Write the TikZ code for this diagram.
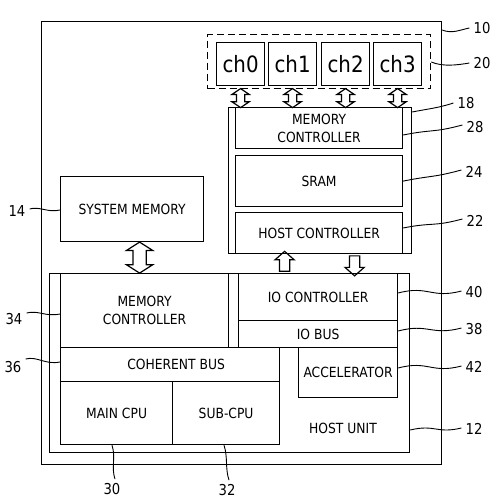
\documentclass[tikz,border=0pt]{standalone}
\usepackage{fontspec}
\setmainfont{DejaVu Sans}[FakeStretch=0.88]
\usetikzlibrary{shapes.arrows,calc}
\begin{document}
\begin{tikzpicture}[x=1pt,y=-1pt,
  box/.style={draw, line width=1.2pt, inner sep=0pt, anchor=north west, align=center,
    font=\fontsize{14}{18}\selectfont},
  txt/.style={inner sep=0pt, font=\fontsize{14}{18}\selectfont},
  chbox/.style={box, minimum width=48pt, minimum height=43pt, font=\fontsize{22.5}{24}\selectfont},
  num/.style={inner sep=0pt, font=\fontsize{15}{17}\selectfont},
  lead/.style={line width=0.9pt},
  dbla/.style={draw, line width=1.2pt, shape=double arrow, rotate=90, inner xsep=0pt},
  snga/.style={draw, line width=1.2pt, shape=single arrow, inner xsep=0pt,
    inner ysep=4.5pt, minimum width=18pt, single arrow head extend=4.5pt,
    single arrow tip angle=97, minimum height=20pt}]
\useasboundingbox (0,0) rectangle (501,503);
% outer system
\node[box, minimum width=400pt, minimum height=443pt] (sys10) at (41,21) {};
% flash channels
\node[draw, line width=1.2pt, dash pattern=on 7pt off 4pt, inner sep=0pt, anchor=north west,
  minimum width=223pt, minimum height=54pt] (ssd20) at (207,34) {};
\node[chbox] (ch0) at (216,42) {ch0};
\node[chbox] (ch1) at (268,42) {ch1};
\node[chbox] (ch2) at (321,42) {ch2};
\node[chbox] (ch3) at (373,42) {ch3};
% storage device 18
\node[box, minimum width=183pt, minimum height=146pt] (dev18) at (228,107) {};
\node[box, minimum width=167pt, minimum height=41pt] (mc28) at (235,107) {MEMORY\\CONTROLLER};
\node[box, minimum width=167pt, minimum height=51pt] (sram24) at (235,155) {SRAM};
\node[box, minimum width=167pt, minimum height=41pt] (hc22) at (235,212) {\raisebox{-3pt}{HOST CONTROLLER}};
% system memory
\node[box, minimum width=143pt, minimum height=65pt] (smem14) at (60,176) {SYSTEM MEMORY};
% host unit
\node[box, minimum width=360pt, minimum height=179pt] (host12) at (49,273) {};
\node[txt] (hostlbl) at (343,428) {HOST UNIT};
\node[box, minimum width=168pt, minimum height=74pt] (mc34) at (60,273) {MEMORY\\CONTROLLER};
\node[box, minimum width=159pt, minimum height=47pt] (ioc40) at (238,273) {IO CONTROLLER};
\node[box, minimum width=159pt, minimum height=27pt] (iob38) at (238,320) {IO BUS};
\node[box, minimum width=219pt, minimum height=34pt] (coh36) at (60,347) {\hspace*{12pt}COHERENT BUS};
\node[box, minimum width=112pt, minimum height=63pt] (cpu30) at (60,381) {MAIN CPU};
\node[box, minimum width=107pt, minimum height=63pt] (sub32) at (172,381) {SUB-CPU};
\node[box, minimum width=99pt, minimum height=50pt] (acc42) at (298,347) {ACCELERATOR};
% channel arrows
\foreach \c in {0,1,2,3}{
  \node[dbla, inner ysep=3.5pt, minimum width=16pt, double arrow head extend=4.5pt,
    double arrow tip angle=112, minimum height=19pt] (a\c)
    at ($(ch\c.south |- ssd20.south)!0.5!(ch\c.south |- mc28.north)$) {};
}
% system memory <-> host memory controller
\node[dbla, inner ysep=6pt, minimum width=25pt, double arrow head extend=6.5pt,
  double arrow tip angle=115, minimum height=31pt] (abig)
  at ($(smem14.south)!0.5!(smem14.south |- host12.north)+(7.5,0)$) {};
% host controller <-> IO controller
\node[snga, rotate=90] (aup) at ($(hc22.south)!0.5!(hc22.south |- ioc40.north)+(-34.5,0)$) {};
\node[snga, rotate=-90] (adown) at ($(hc22.south)!0.5!(hc22.south |- ioc40.north)+(35.5,0)$) {};
% reference numerals
\node[num] (n10) at (482,28) {10};
\node[num] (n20) at (482,63) {20};
\node[num] (n18) at (466,103) {18};
\node[num] (n28) at (475,127) {28};
\node[num] (n24) at (474,172) {24};
\node[num] (n22) at (475,221) {22};
\node[num] (n40) at (474,292) {40};
\node[num] (n38) at (474,329) {38};
\node[num] (n42) at (474,367) {42};
\node[num] (n12) at (474,429) {12};
\node[num] (n14) at (17,211) {14};
\node[num] (n34) at (14,319) {34};
\node[num] (n36) at (13,367) {36};
\node[num] (n30) at (112,489) {30};
\node[num] (n32) at (227,490) {32};
% leader lines
\draw[lead] (sys10.east |- 0,30) .. controls +(10,4) and +(-10,2) .. ($(n10.west)+(-4,0)$);
\draw[lead] (ssd20.east |- 0,62) .. controls +(12,5) and +(-12,2) .. ($(n20.west)+(-4,0)$);
\draw[lead] (dev18.east |- 0,112) .. controls +(15,-3) and +(-15,5) .. ($(n18.west)+(-4,0)$);
\draw[lead] (mc28.east |- 0,135) .. controls +(30,-6) and +(-30,8) .. ($(n28.west)+(-4,-2)$);
\draw[lead] (sram24.east) .. controls +(30,-6) and +(-30,8) .. ($(n24.west)+(-4,-2)$);
\draw[lead] (hc22.east |- 0,228) .. controls +(30,-6) and +(-30,8) .. ($(n22.west)+(-4,-2)$);
\draw[lead] (ioc40.east |- 0,293) .. controls +(30,-8) and +(-30,8) .. ($(n40.west)+(-4,-1)$);
\draw[lead] (iob38.east |- 0,331) .. controls +(30,-8) and +(-30,8) .. ($(n38.west)+(-4,-1)$);
\draw[lead] (acc42.east |- 0,368) .. controls +(30,-8) and +(-30,8) .. ($(n42.west)+(-4,-1)$);
\draw[lead] (host12.east |- 0,430) .. controls +(25,-6) and +(-25,6) .. ($(n12.west)+(-4,-1)$);
\draw[lead] (smem14.west |- 0,210) .. controls +(-12,3) and +(10,-3) .. ($(n14.east)+(4,-2)$);
\draw[lead] (mc34.west |- 0,314) .. controls +(-15,3) and +(12,-3) .. ($(n34.east)+(4,-6)$);
\draw[lead] (coh36.west |- 0,362) .. controls +(-15,3) and +(12,-3) .. ($(n36.east)+(4,-8)$);
\draw[lead] (cpu30.south -| 112,0) .. controls +(4,12) and +(-4,-12) .. ($(n30.north)+(3,-4)$);
\draw[lead] (sub32.south -| 224,0) .. controls +(4,12) and +(-4,-12) .. ($(n32.north)+(2,-4)$);
\end{tikzpicture}
\end{document}
